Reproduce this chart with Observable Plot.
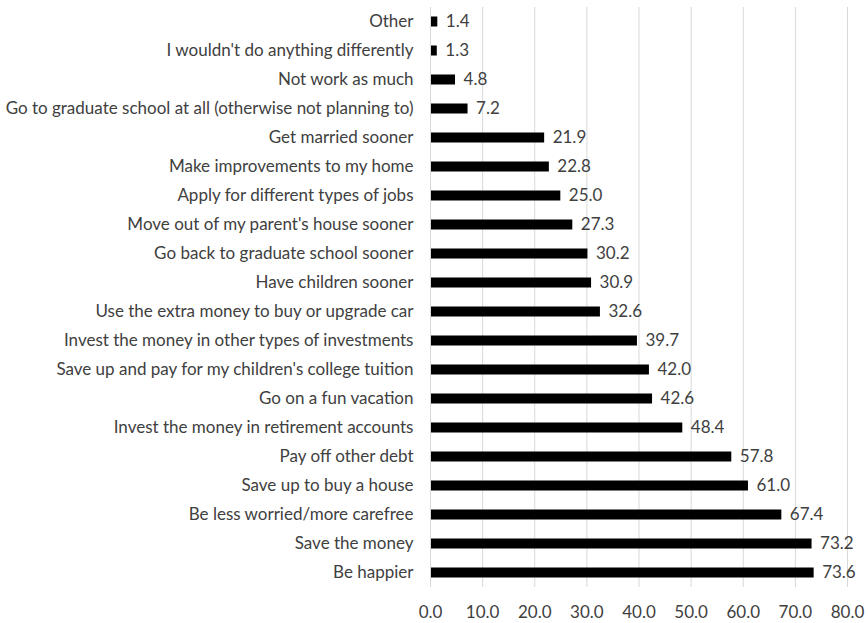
<!DOCTYPE html>
<html>
<head>
<meta charset="utf-8">
<script src="https://cdn.jsdelivr.net/npm/d3@7"></script>
<script src="https://cdn.jsdelivr.net/npm/@observablehq/plot@0.6"></script>
<style>
  html, body { margin: 0; padding: 0; background: #fff; }
  svg { display: block; }
</style>
</head>
<body>
<div id="chart"></div>
<script>
const categories = [
  "Other",
  "I wouldn't do anything differently",
  "Not work as much",
  "Go to graduate school at all (otherwise not planning to)",
  "Get married sooner",
  "Make improvements to my home",
  "Apply for different types of jobs",
  "Move out of my parent's house sooner",
  "Go back to graduate school sooner",
  "Have children sooner",
  "Use the extra money to buy or upgrade car",
  "Invest the money in other types of investments",
  "Save up and pay for my children's college tuition",
  "Go on a fun vacation",
  "Invest the money in retirement accounts",
  "Pay off other debt",
  "Save up to buy a house",
  "Be less worried/more carefree",
  "Save the money",
  "Be happier"
];
const values = [1.4, 1.3, 4.8, 7.2, 21.9, 22.8, 25.0, 27.3, 30.2, 30.9, 32.6, 39.7, 42.0, 42.6, 48.4, 57.8, 61.0, 67.4, 73.2, 73.6];
const xTicks = [0, 10, 20, 30, 40, 50, 60, 70, 80];

const data = categories.map((c, i) => ({category: c, value: values[i]}));

const chart = Plot.plot({
  width: 868,
  height: 623,
  marginLeft: 430,
  marginRight: 21,
  marginTop: 7,
  marginBottom: 36,
  style: {fontFamily: "Lato, 'Open Sans', sans-serif", fontSize: "17px", color: "#404040", background: "#fff"},
  x: {domain: [0, 80], ticks: xTicks, tickFormat: d => d.toFixed(1), label: null, tickSize: 0, tickPadding: 18},
  y: {domain: categories, label: null, tickSize: 0, tickPadding: 17, padding: 0},
  marks: [
    Plot.gridX(xTicks, {stroke: "#d9d9d9", strokeOpacity: 1, strokeWidth: 1}),
    Plot.barX(data, {x: "value", y: "category", fill: "#000", insetTop: 9.5, insetBottom: 9.5}),
    Plot.text(data, {x: "value", y: "category", text: d => d.value.toFixed(1), textAnchor: "start", dx: 8, fill: "#404040", fontSize: 17}),
    Plot.ruleX([0], {stroke: "#d9d9d9"})
  ]
});
document.getElementById("chart").appendChild(chart);
</script>
</body>
</html>
